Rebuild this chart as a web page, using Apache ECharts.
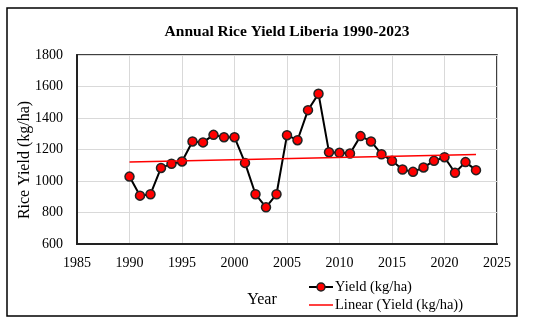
<!DOCTYPE html>
<html><head><meta charset="utf-8">
<script src="https://cdn.jsdelivr.net/npm/echarts@6/dist/echarts.min.js"></script>
<style>html,body{margin:0;padding:0;background:#fff}#c{width:550px;height:323px}</style>
</head><body><div id="c"></div>
<script>
const years = [1990,1991,1992,1993,1994,1995,1996,1997,1998,1999,2000,2001,2002,2003,2004,2005,2006,2007,2008,2009,2010,2011,2012,2013,2014,2015,2016,2017,2018,2019,2020,2021,2022,2023];
const yieldVals = [1028,907,916,1083,1109,1124,1251,1245,1293,1278,1278,1115,916,833,916,1291,1259,1450,1554,1183,1179,1175,1285,1251,1170,1128,1073,1058,1086,1128,1151,1052,1120,1069];
const trendYears = [1990, 2023];
const trendVals = [1121, 1169];
const xTicks = {min:1985, max:2025, interval:5};
const yTicks = {min:600, max:1800, interval:200};
const seriesNames = ['Yield (kg/ha)', 'Linear (Yield (kg/ha))'];

const FONT = '"Liberation Serif", "DejaVu Serif", serif';
const chart = echarts.init(document.getElementById('c'), null, {renderer:'canvas'});
const txt = (x, y, s, size, align) => ({type:'text', x:x, y:y, style:{text:s, font:size+'px '+FONT, fill:'#000', align:align||'left', verticalAlign:'middle'}});
const yName = txt(25, 160, 'Rice Yield (kg/ha)', 16, 'center');
yName.rotation = Math.PI / 2;
chart.setOption({
  animation:false,
  backgroundColor:'#fff',
  title:{text:'Annual Rice Yield Liberia 1990-2023', left:282, top:19, textAlign:'center',
    textStyle:{fontFamily:FONT, fontSize:15.5, fontWeight:'bold', color:'#000'}},
  graphic:[
    {type:'rect', shape:{x:7, y:8, width:510, height:308}, style:{fill:'none', stroke:'#000', lineWidth:1.5}, z:-1},
    yName,
    txt(262, 300, 'Year', 16, 'center'),
    {type:'line', shape:{x1:309, y1:287, x2:333, y2:287}, style:{stroke:'#000', lineWidth:2}},
    {type:'circle', shape:{cx:321, cy:287, r:4}, style:{fill:'#ff0000', stroke:'#222', lineWidth:1.5}},
    txt(335, 287, seriesNames[0], 14.5),
    {type:'line', shape:{x1:309, y1:305, x2:333, y2:305}, style:{stroke:'#ff0000', lineWidth:1.5}},
    txt(335, 305, seriesNames[1], 14.5)
  ],
  grid:{left:77, right:53, top:55, bottom:79, show:true, borderColor:'#000', borderWidth:1.5, containLabel:false, outerBoundsMode:'none'},
  xAxis:{type:'value', min:xTicks.min, max:xTicks.max, interval:xTicks.interval,
    axisLine:{lineStyle:{color:'#222', width:2}}, axisTick:{show:false},
    axisLabel:{fontFamily:FONT, fontSize:14, color:'#000', margin:12, formatter:v=>String(v)},
    splitLine:{lineStyle:{color:'#d9d9d9', width:1}}},
  yAxis:{type:'value', min:yTicks.min, max:yTicks.max, interval:yTicks.interval,
    axisLine:{show:true, lineStyle:{color:'#222', width:2}}, axisTick:{show:false},
    axisLabel:{fontFamily:FONT, fontSize:14, color:'#000', margin:14, formatter:v=>String(v)},
    splitLine:{lineStyle:{color:'#d9d9d9', width:1}}},
  series:[
    {name:seriesNames[0], type:'line', data:years.map((y,i)=>[y,yieldVals[i]]),
      symbol:'circle', symbolSize:9, lineStyle:{color:'#000', width:2},
      itemStyle:{color:'#ff0000', borderColor:'#222', borderWidth:1.5}, z:3},
    {name:seriesNames[1], type:'line', data:trendYears.map((y,i)=>[y,trendVals[i]]),
      symbol:'none', lineStyle:{color:'#ff0000', width:1.5}, itemStyle:{color:'#ff0000'}, z:4}
  ]
});
</script></body></html>
